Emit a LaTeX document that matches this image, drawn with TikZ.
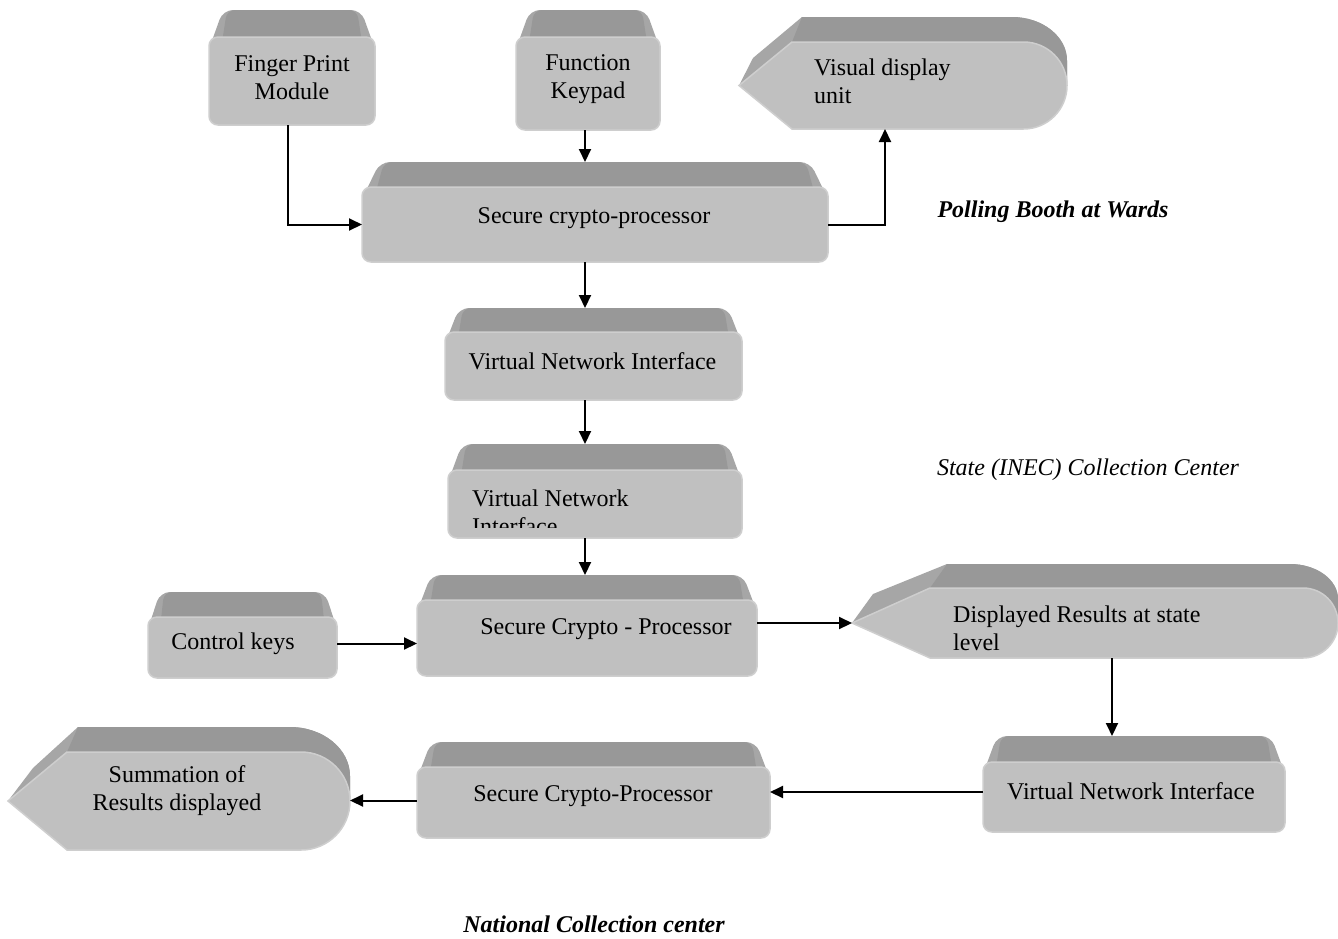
\documentclass[tikz,border=0pt]{standalone}
\usepackage{fontspec}
\setmainfont{Liberation Serif}
\usetikzlibrary{calc,backgrounds,arrows.meta}

\definecolor{frontgray}{RGB}{192,192,192}
\definecolor{frontedge}{RGB}{206,206,206}
\definecolor{topgray}{RGB}{152,152,152}
\definecolor{sidegray}{RGB}{166,166,166}

\tikzset{
  frontbox/.style={rectangle, rounded corners=9pt, fill=frontgray, draw=frontedge,
    line width=1.5pt, inner sep=0pt, outer sep=0pt},
  frame/.style={rectangle, inner sep=0pt, outer sep=0pt},
  txt/.style={font=\fontsize{24}{28}\selectfont, inner sep=0pt, align=center},
  ltxt/.style={txt, align=left, anchor=west},
  flow/.style={line width=2pt, -{Triangle[length=13pt,width=12pt]}},
  caption/.style={font=\fontsize{24}{28}\selectfont\itshape, inner sep=0pt},
  boldcaption/.style={caption, font=\fontsize{24}{28}\selectfont\bfseries\itshape},
}

% bevelled top of a box node: [inset] {node} {depth}
\newcommand\boxtop[3][14]{%
  \begin{scope}[on background layer]
    \fill[sidegray, rounded corners=10pt] ($(#2.north west)+(0,12)$) -- ($(#2.north west)+(#1,-#3)$)
      -- ($(#2.north east)+(-#1,-#3)$) -- ($(#2.north east)+(0,12)$) -- cycle;
    \fill[topgray, rounded corners=8pt] ($(#2.north west)+(12,12)$) -- ($(#2.north west)+(#1+4,-#3)$)
      -- ($(#2.north east)+(-#1-4,-#3)$) -- ($(#2.north east)+(-12,12)$) -- cycle;
  \end{scope}
  \coordinate (#2-top) at ($(#2.north)+(0,-#3)$);
}

% display symbol on a frame node: {node}{point length}{radius}{depth}{mid x}{mid y}{top left x}{top x radius}
\newcommand\dispfaces[8]{%
  \begin{scope}[on background layer]
    \fill[sidegray] (#1.west) -- ($(#1.north west)+(#5,#6)$) -- ($(#1.north west)+(#7,-#4)$)
      -- ($(#1.north east)+(-#8,-#4)$) arc[start angle=90, end angle=0, x radius=#8pt, y radius=#3pt]
      -- (#1.east) -- cycle;
    \fill[topgray] ($(#1.north west)+(#7,-#4)$) -- ($(#1.north east)+(-#8,-#4)$)
      arc[start angle=90, end angle=0, x radius=#8pt, y radius=#3pt]
      -- (#1.east) -- ($(#1.north west)+(#2,0)$) -- cycle;
  \end{scope}
  \fill[frontgray, draw=frontedge, line width=1.5pt] (#1.west) -- ($(#1.north west)+(#2,0)$)
    -- ($(#1.north east)+(-#3,0)$) arc[start angle=90, end angle=-90, radius=#3pt]
    -- ($(#1.south west)+(#2,0)$) -- cycle;
}

\begin{document}
\begin{tikzpicture}[x=1pt, y=-1pt]
  \useasboundingbox (0,0) rectangle (1338,938);
  \begin{scope}[on background layer]
    \fill[white] (0,0) rectangle (1338,938);
  \end{scope}

  % ---- polling booth ----
  \node[frontbox, minimum width=166pt, minimum height=88pt] (fp) at (292,81) {};
  \boxtop{fp}{27}
  \node[txt] (fp-t) at (292,78) {Finger Print\\Module};

  \node[frontbox, minimum width=144pt, minimum height=93pt] (kp) at (588,83.5) {};
  \boxtop{kp}{27}
  \node[txt] (kp-t) at (588,79) {Function\\Keypad};

  \node[frame, minimum width=328pt, minimum height=87pt] (vd) at (903,85.5) {};
  \dispfaces{vd}{53}{43.5}{25}{14}{16}{63}{55}
  \node[ltxt] (vd-t) at (814,81) {Visual display\\unit};

  \node[frontbox, minimum width=466pt, minimum height=75pt] (c1) at (595,224.5) {};
  \boxtop[18]{c1}{25}
  \node[txt] (c1-t) at (594,218) {Secure crypto-processor};

  \node[frontbox, minimum width=297pt, minimum height=68pt] (v1) at (593.5,366) {};
  \boxtop{v1}{24}
  \node[txt] (v1-t) at (592.5,361) {Virtual Network Interface};

  % ---- state collection centre ----
  \node[frontbox, minimum width=294pt, minimum height=68pt] (v2) at (595,504) {};
  \boxtop{v2}{26}
  \begin{scope}
    \clip (448,470) rectangle (742,527);
    \node[ltxt] (v2-t) at (472,512) {Virtual Network\\Interface};
  \end{scope}

  \node[frontbox, minimum width=340pt, minimum height=76pt] (c2) at (587,638) {};
  \boxtop{c2}{25}
  \node[txt] (c2-t) at (606,629) {Secure Crypto - Processor};

  \node[frontbox, minimum width=189pt, minimum height=61pt] (ck) at (242.5,647.5) {};
  \boxtop[12]{ck}{25}
  \node[txt] (ck-t) at (233,644) {Control keys};

  \node[frame, minimum width=486pt, minimum height=70pt] (dr) at (1095,623) {};
  \dispfaces{dr}{78}{35}{24}{21}{6}{95}{48}
  \node[ltxt] (dr-t) at (953,628) {Displayed Results at state\\level};

  % ---- national collection centre ----
  \node[frontbox, minimum width=302pt, minimum height=70pt] (v3) at (1134,797) {};
  \boxtop{v3}{26}
  \node[txt] (v3-t) at (1131,791) {Virtual Network Interface};

  \node[frontbox, minimum width=353pt, minimum height=71pt] (c3) at (593.5,802.5) {};
  \boxtop{c3}{25}
  \node[txt] (c3-t) at (593,796) {Secure Crypto-Processor};

  \node[frame, minimum width=342pt, minimum height=98pt] (sm) at (179,801) {};
  \dispfaces{sm}{59}{49}{25}{25}{16}{70}{60}
  \node[txt] (sm-t) at (177,790.5) {Summation of\\Results displayed};

  % ---- captions ----
  \node[boldcaption] (cap1) at (1053,212) {Polling Booth at Wards};
  \node[caption] (cap2) at (1088,470) {State (INEC) Collection Center};
  \node[boldcaption] (cap3) at (594,924) {National Collection center};

  % ---- connectors ----
  \coordinate (spine) at (585,0);
  \draw[flow] ([xshift=-4pt]fp.south) |- (c1.west);
  \draw[flow] ([xshift=-3pt]kp.south) -- ([xshift=-3pt]kp.south |- c1-top);
  \draw[flow] (c1.east) -| ([xshift=-18pt]vd.south);
  \draw[flow] (c1.south -| spine) -- (v1-top -| spine);
  \draw[flow] (v1.south -| spine) -- (v2-top -| spine);
  \draw[flow] (v2.south -| spine) -- (c2-top -| spine);
  \draw[flow] ([yshift=4pt]ck.east) -- ([yshift=4pt]ck.east -| c2.west);
  \draw[flow] (c2.east |- dr.west) -- (dr.west);
  \coordinate (drout) at ($(dr.south)+(17,0)$);
  \draw[flow] (drout) -- (drout |- v3-top);
  \draw[flow] ([yshift=5pt]v3.west) -- ([yshift=5pt]v3.west -| c3.east);
  \draw[flow] ([yshift=2pt]c3.west) -- ([yshift=2pt]c3.west -| sm.east);
\end{tikzpicture}
\end{document}
